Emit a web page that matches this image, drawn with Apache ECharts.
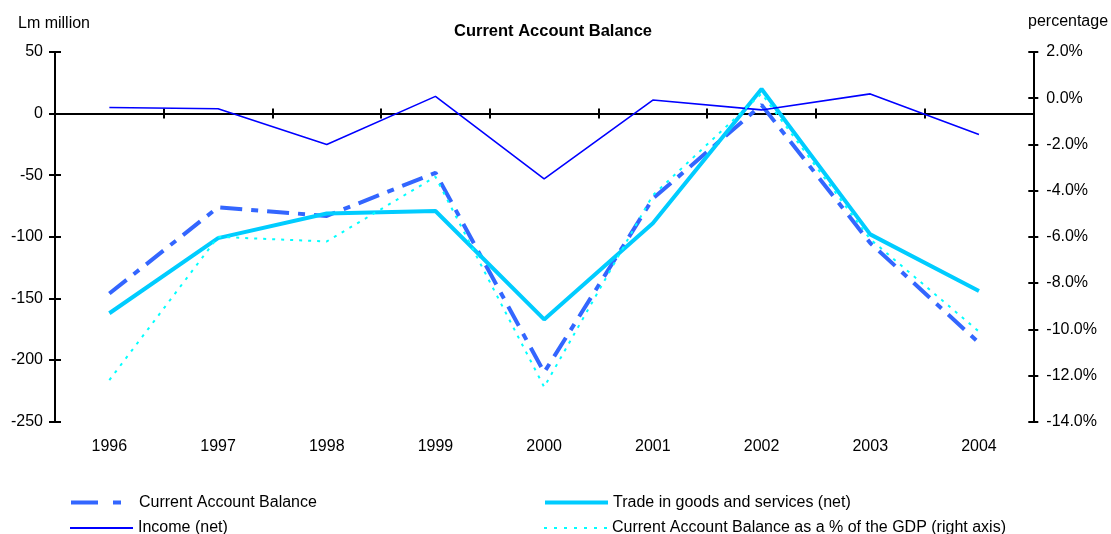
<!DOCTYPE html>
<html>
<head>
<meta charset="utf-8">
<script src="https://cdn.jsdelivr.net/npm/echarts@6/dist/echarts.min.js"></script>
<style>
  html, body { margin: 0; padding: 0; background: #ffffff; }
  #chart { width: 1111px; height: 534px; }
</style>
</head>
<body>
<div id="chart"></div>
<script>
// Years on the category axis
const years = ['1996', '1997', '1998', '1999', '2000', '2001', '2002', '2003', '2004'];

// Lm million (left axis)
const currentAccount = [-146, -76, -83, -48, -210, -69, 7, -105, -186];
const tradeNet = [-162, -101, -81, -79, -167, -89, 20, -98, -144];
const incomeNet = [5, 4, -25, 14, -53, 11, 3, 16, -17];

// Percentage of GDP (right axis)
const currentAccountPctGdp = [-12.2, -6.0, -6.2, -3.4, -12.5, -4.2, 0.2, -6.1, -10.1];

// Axis ranges: [min, max, step]
const leftRange = [-250, 50, 50];
const rightRange = [-14, 2, 2];

const FONT = 'Arial, "Liberation Sans", sans-serif';
const INK = '#000000';

const names = [
  'Current Account Balance',
  'Trade in goods and services (net)',
  'Income (net)',
  'Current Account Balance as a % of the GDP (right axis)'
];

const colors = ['#3366FF', '#00CCFF', '#0000FF', '#00FFFF'];

function valueAxis(range, position, insideTicks, tickLen, showLabels, fmt, margin) {
  return {
    type: 'value',
    position: position,
    min: range[0],
    max: range[1],
    interval: range[2],
    splitLine: { show: false },
    axisLine: { show: !insideTicks, lineStyle: { color: INK, width: 2 } },
    axisTick: { show: true, inside: insideTicks, length: tickLen, lineStyle: { color: INK, width: 2 } },
    axisLabel: {
      show: showLabels, color: INK, fontFamily: FONT, fontSize: 16,
      margin: margin, formatter: fmt
    }
  };
}

// Category axis pinned to the zero line; drawn twice so the ticks cross it
function zeroCategoryAxis(insideTicks) {
  return {
    type: 'category',
    data: years,
    position: 'bottom',
    boundaryGap: true,
    axisLine: { show: true, onZero: true, onZeroAxisIndex: 0, lineStyle: { color: INK, width: 2 } },
    axisTick: { show: true, inside: insideTicks, length: 5, lineStyle: { color: INK, width: 2 } },
    axisLabel: { show: false },
    splitLine: { show: false }
  };
}

function legendItem(name, left, top, lineStyle) {
  return {
    data: [name],
    left: left,
    top: top,
    padding: 0,
    itemWidth: 63,
    itemHeight: 14,
    selectedMode: false,
    itemStyle: { opacity: 0 },
    lineStyle: lineStyle,
    textStyle: { color: INK, fontFamily: FONT, fontSize: 16 }
  };
}

const pctFmt = v => v.toFixed(1) + '%';

const option = {
  animation: false,
  backgroundColor: '#ffffff',
  title: [
    { text: 'Current Account Balance', left: 454, top: 23, padding: 0,
      textStyle: { color: INK, fontFamily: FONT, fontSize: 16.5, fontWeight: 'bold' } },
    { text: 'Lm million', left: 18, top: 16, padding: 0,
      textStyle: { color: INK, fontFamily: FONT, fontSize: 16, fontWeight: 'normal' } },
    { text: 'percentage', left: 1028, top: 14, padding: 0,
      textStyle: { color: INK, fontFamily: FONT, fontSize: 16, fontWeight: 'normal' } }
  ],
  grid: { left: 55, right: 77.7, top: 52, bottom: 112.3, containLabel: false },
  legend: [
    legendItem(names[0], 69, 494.5, { color: colors[0], width: 4, type: [27, 15, 8, 40], cap: 'butt' }),
    legendItem(names[1], 543, 494.5, { color: colors[1], width: 4, type: 'solid' }),
    legendItem(names[2], 69, 520, { color: colors[2], width: 2, type: 'solid' }),
    legendItem(names[3], 543, 520, { color: colors[3], width: 2, type: [3, 7], cap: 'butt' })
  ],
  xAxis: [
    {
      type: 'category',
      data: years,
      position: 'bottom',
      boundaryGap: true,
      axisLine: { show: false, onZero: false },
      axisTick: { show: false },
      axisLabel: { color: INK, fontFamily: FONT, fontSize: 16, margin: 17 },
      splitLine: { show: false }
    },
    zeroCategoryAxis(false),
    zeroCategoryAxis(true)
  ],
  yAxis: [
    valueAxis(leftRange, 'left', false, 6, true, null, 12),
    valueAxis(rightRange, 'right', false, 5, true, pctFmt, 13),
    valueAxis(leftRange, 'left', true, 6, false, null, 12),
    valueAxis(rightRange, 'right', true, 5, false, pctFmt, 13)
  ],
  series: [
    {
      name: names[0], type: 'line', data: currentAccount, yAxisIndex: 0,
      symbol: 'none', color: colors[0],
      lineStyle: { color: colors[0], width: 4, type: [22, 9, 7, 9], cap: 'butt' }
    },
    {
      name: names[1], type: 'line', data: tradeNet, yAxisIndex: 0,
      symbol: 'none', color: colors[1],
      lineStyle: { color: colors[1], width: 4 }
    },
    {
      name: names[2], type: 'line', data: incomeNet, yAxisIndex: 0,
      symbol: 'none', color: colors[2],
      lineStyle: { color: colors[2], width: 1.6 }
    },
    {
      name: names[3], type: 'line', data: currentAccountPctGdp, yAxisIndex: 1,
      symbol: 'none', color: colors[3],
      lineStyle: { color: colors[3], width: 2, type: [3, 6], cap: 'butt' }
    }
  ]
};

const chart = echarts.init(document.getElementById('chart'), null, { renderer: 'canvas' });
chart.setOption(option);
</script>
</body>
</html>
